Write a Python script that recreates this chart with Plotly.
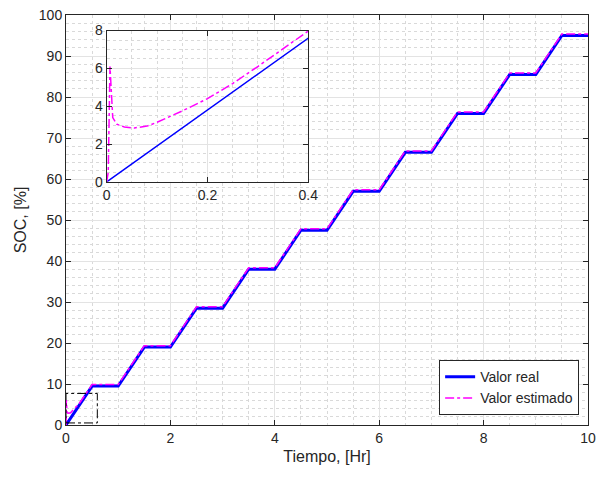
import plotly.graph_objects as go

# Real state of charge: charge ramps of 0.5 h followed by 0.5 h rests
real_t = [0, 0.5, 1.0, 1.5, 2.0, 2.5, 3.0, 3.5, 4.0, 4.5, 5.0, 5.5, 6.0, 6.5, 7.0,
          7.5, 8.0, 8.5, 9.0, 9.5, 10.0]
real_soc = [0, 9.5, 9.5, 19.0, 19.0, 28.5, 28.5, 38.0, 38.0, 47.5, 47.5, 57.0, 57.0,
            66.5, 66.5, 76.0, 76.0, 85.5, 85.5, 95.0, 95.0]

# Estimated state of charge (filter output), with its initial transient
est_t = [0, 0.003, 0.0065, 0.009, 0.012, 0.02, 0.035, 0.055, 0.08, 0.1, 0.15, 0.2,
         0.25, 0.3, 0.35, 0.4, 0.5, 1.0, 1.5, 2.0, 2.5, 3.0, 3.5, 4.0, 4.5, 5.0,
         5.5, 6.0, 6.5, 7.0, 7.5, 8.0, 8.5, 9.0, 9.5, 10.0]
est_soc = [0, 0.5, 6.1, 4.6, 3.4, 3.05, 2.9, 2.85, 2.95, 3.15, 3.75, 4.4,
           5.2, 6.1, 7.05, 8.0, 9.85, 9.85, 19.35, 19.35, 28.85, 28.85, 38.35, 38.35,
           47.85, 47.85, 57.35, 57.35, 66.85, 66.85, 76.35, 76.35, 85.85, 85.85,
           95.35, 95.35]

x_ticks = [0, 2, 4, 6, 8, 10]
y_ticks = [0, 10, 20, 30, 40, 50, 60, 70, 80, 90, 100]
inset_x_ticks = [0, 0.2, 0.4]
inset_y_ticks = [0, 2, 4, 6, 8]

# Zoom window outlined on the main axes
zoom_box_x = [0, 0.6]
zoom_box_y = [0.5, 7.7]

BLUE = "#0000FF"
MAGENTA = "#FF00FF"
AXCOL = "#262626"
FONT = "Liberation Sans, Arial, sans-serif"

fig = go.Figure()

fig.add_trace(go.Scatter(x=real_t, y=real_soc, mode="lines", name="Valor real",
                         line=dict(color=BLUE, width=3), xaxis="x", yaxis="y"))
fig.add_trace(go.Scatter(x=est_t, y=est_soc, mode="lines", name="Valor estimado",
                         line=dict(color=MAGENTA, width=1.5, dash="dashdot"),
                         xaxis="x", yaxis="y"))

fig.add_trace(go.Scatter(x=real_t, y=real_soc, mode="lines", showlegend=False,
                         line=dict(color=BLUE, width=1.5), xaxis="x2", yaxis="y2"))
fig.add_trace(go.Scatter(x=est_t, y=est_soc, mode="lines", showlegend=False,
                         line=dict(color=MAGENTA, width=1.5, dash="dashdot"),
                         xaxis="x2", yaxis="y2"))

fig.add_shape(type="rect", xref="x", yref="y",
              x0=zoom_box_x[0], x1=zoom_box_x[1], y0=zoom_box_y[0], y1=zoom_box_y[1],
              line=dict(color="black", width=1, dash="dashdot"))

grid = dict(showgrid=True, gridcolor="#e3e3e3", gridwidth=1,
            showline=True, linecolor=AXCOL, linewidth=1, mirror="ticks",
            ticks="inside", ticklen=5, tickcolor=AXCOL, zeroline=False,
            tickfont=dict(size=14, color=AXCOL, family=FONT))
minor = dict(showgrid=True, gridcolor="#d9d9d9", griddash="dot", gridwidth=1)

fig.update_layout(
    width=599, height=478,
    margin=dict(l=66, r=11, t=15, b=53, autoexpand=False),
    paper_bgcolor="white", plot_bgcolor="white",
    font=dict(family=FONT, color=AXCOL),
    xaxis=dict(range=[0, 10], tickvals=x_ticks, domain=[0, 1],
               minor=dict(dtick=0.5, **minor),
               title=dict(text="Tiempo, [Hr]", font=dict(size=16), standoff=6), **grid),
    yaxis=dict(range=[0, 100], tickvals=y_ticks, domain=[0, 1],
               minor=dict(dtick=2, **minor),
               title=dict(text="SOC, [%]", font=dict(size=16), standoff=8), **grid),
    xaxis2=dict(range=[0, 0.4], tickvals=inset_x_ticks, domain=[0.078, 0.464],
                anchor="y2", minor=dict(dtick=0.05, **minor), **grid),
    yaxis2=dict(range=[0, 8], tickvals=inset_y_ticks, domain=[0.593, 0.962],
                anchor="x2", minor=dict(dtick=0.5, **minor), **grid),
    legend=dict(x=0.983, y=0.024, xanchor="right", yanchor="bottom",
                bgcolor="white", bordercolor=AXCOL, borderwidth=1,
                font=dict(size=14, color=AXCOL, family=FONT),
                tracegroupgap=0, itemwidth=30),
    showlegend=True,
)

fig.write_html("out.html")
